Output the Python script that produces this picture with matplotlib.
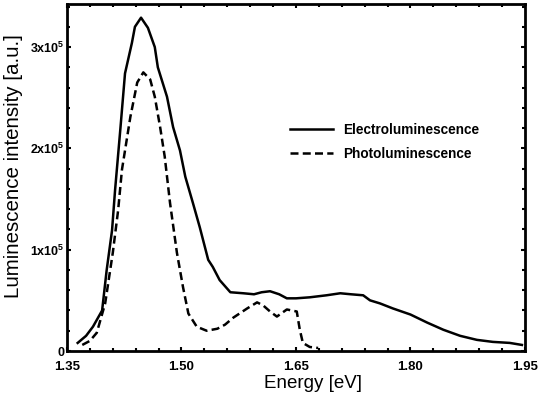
import numpy as np
import matplotlib.pyplot as plt
from matplotlib.ticker import MultipleLocator

# Energy [eV] and intensity [x1e5 a.u.]
el_energy = [1.364, 1.375, 1.384, 1.396, 1.402, 1.409, 1.413, 1.420, 1.426, 1.435,
             1.439, 1.447, 1.456, 1.465, 1.469, 1.481, 1.489, 1.498, 1.505, 1.515,
             1.524, 1.535, 1.541, 1.550, 1.564, 1.581, 1.595, 1.605, 1.616, 1.628,
             1.638, 1.650, 1.668, 1.690, 1.708, 1.722, 1.738, 1.747, 1.760, 1.777,
             1.800, 1.822, 1.843, 1.865, 1.887, 1.908, 1.930, 1.946]
el_int = [0.08, 0.15, 0.24, 0.40, 0.80, 1.19, 1.59, 2.20, 2.74, 3.04,
          3.20, 3.29, 3.19, 3.00, 2.80, 2.51, 2.21, 1.98, 1.72, 1.46,
          1.22, 0.90, 0.83, 0.70, 0.58, 0.57, 0.56, 0.58, 0.59, 0.56,
          0.52, 0.52, 0.53, 0.55, 0.57, 0.56, 0.55, 0.50, 0.47, 0.42,
          0.36, 0.28, 0.21, 0.15, 0.11, 0.09, 0.08, 0.06]

pl_energy = [1.370, 1.380, 1.389, 1.400, 1.410, 1.417, 1.422, 1.433, 1.442, 1.450,
             1.459, 1.465, 1.472, 1.478, 1.485, 1.494, 1.502, 1.509, 1.520, 1.533,
             1.547, 1.557, 1.568, 1.586, 1.599, 1.607, 1.616, 1.625, 1.638, 1.651,
             1.655, 1.659, 1.668, 1.679]
pl_int = [0.06, 0.10, 0.18, 0.47, 0.97, 1.39, 1.79, 2.31, 2.65, 2.75,
          2.68, 2.51, 2.21, 1.92, 1.46, 0.97, 0.63, 0.37, 0.24, 0.20,
          0.22, 0.26, 0.33, 0.42, 0.48, 0.45, 0.39, 0.34, 0.41, 0.39,
          0.21, 0.08, 0.04, 0.03]

x_ticks = [1.35, 1.50, 1.65, 1.80, 1.95]
x_labels = ['1.35', '1.50', '1.65', '1.80', '1.95']
y_ticks = [0, 1, 2, 3]
y_labels = ['0', '1x10$^5$', '2x10$^5$', '3x10$^5$']

plt.rcParams['font.family'] = ['Liberation Sans', 'DejaVu Sans']
plt.rcParams['mathtext.fontset'] = 'custom'
plt.rcParams['mathtext.rm'] = 'Liberation Sans:bold'

fig = plt.figure(figsize=(5.39, 3.96), dpi=100)
ax = fig.add_axes([0.1243, 0.1136, 0.8497, 0.8763])

ax.plot(el_energy, el_int, color='black', lw=1.8, label='Electroluminescence')
ax.plot(pl_energy, pl_int, color='black', lw=1.8, dashes=(3.2, 1.7), label='Photoluminescence')

ax.set_xlim(1.35, 1.95)
ax.set_ylim(0, 3.425)
ax.set_xticks(x_ticks)
ax.set_xticklabels(x_labels, fontweight='bold', fontsize=9.5)
ax.set_yticks(y_ticks)
ax.set_yticklabels(y_labels, fontweight='bold', fontsize=9)
ax.xaxis.set_minor_locator(MultipleLocator(0.03))
ax.yaxis.set_minor_locator(MultipleLocator(0.2))
ax.tick_params(which='both', direction='in', top=True, right=True, width=1.5)
ax.tick_params(which='major', length=3)
ax.tick_params(axis='x', which='major', pad=7)
ax.tick_params(axis='y', which='major', pad=2)
ax.tick_params(which='minor', length=2)
for s in ax.spines.values():
    s.set_linewidth(2)

ax.set_xlabel('Energy [eV]', fontsize=13.5)
ax.xaxis.set_label_coords(0.538, -0.07)
ax.set_ylabel('Luminescence intensity [a.u.]', fontsize=14.8)
ax.yaxis.set_label_coords(-0.097, 0.533)

leg = ax.legend(loc='center left', bbox_to_anchor=(0.473, 0.603), frameon=False,
                prop={'weight': 'bold', 'size': 9.8}, handlelength=3.1,
                handletextpad=0.8, labelspacing=0.75, borderpad=0)

fig.savefig('out.png', dpi=100)
